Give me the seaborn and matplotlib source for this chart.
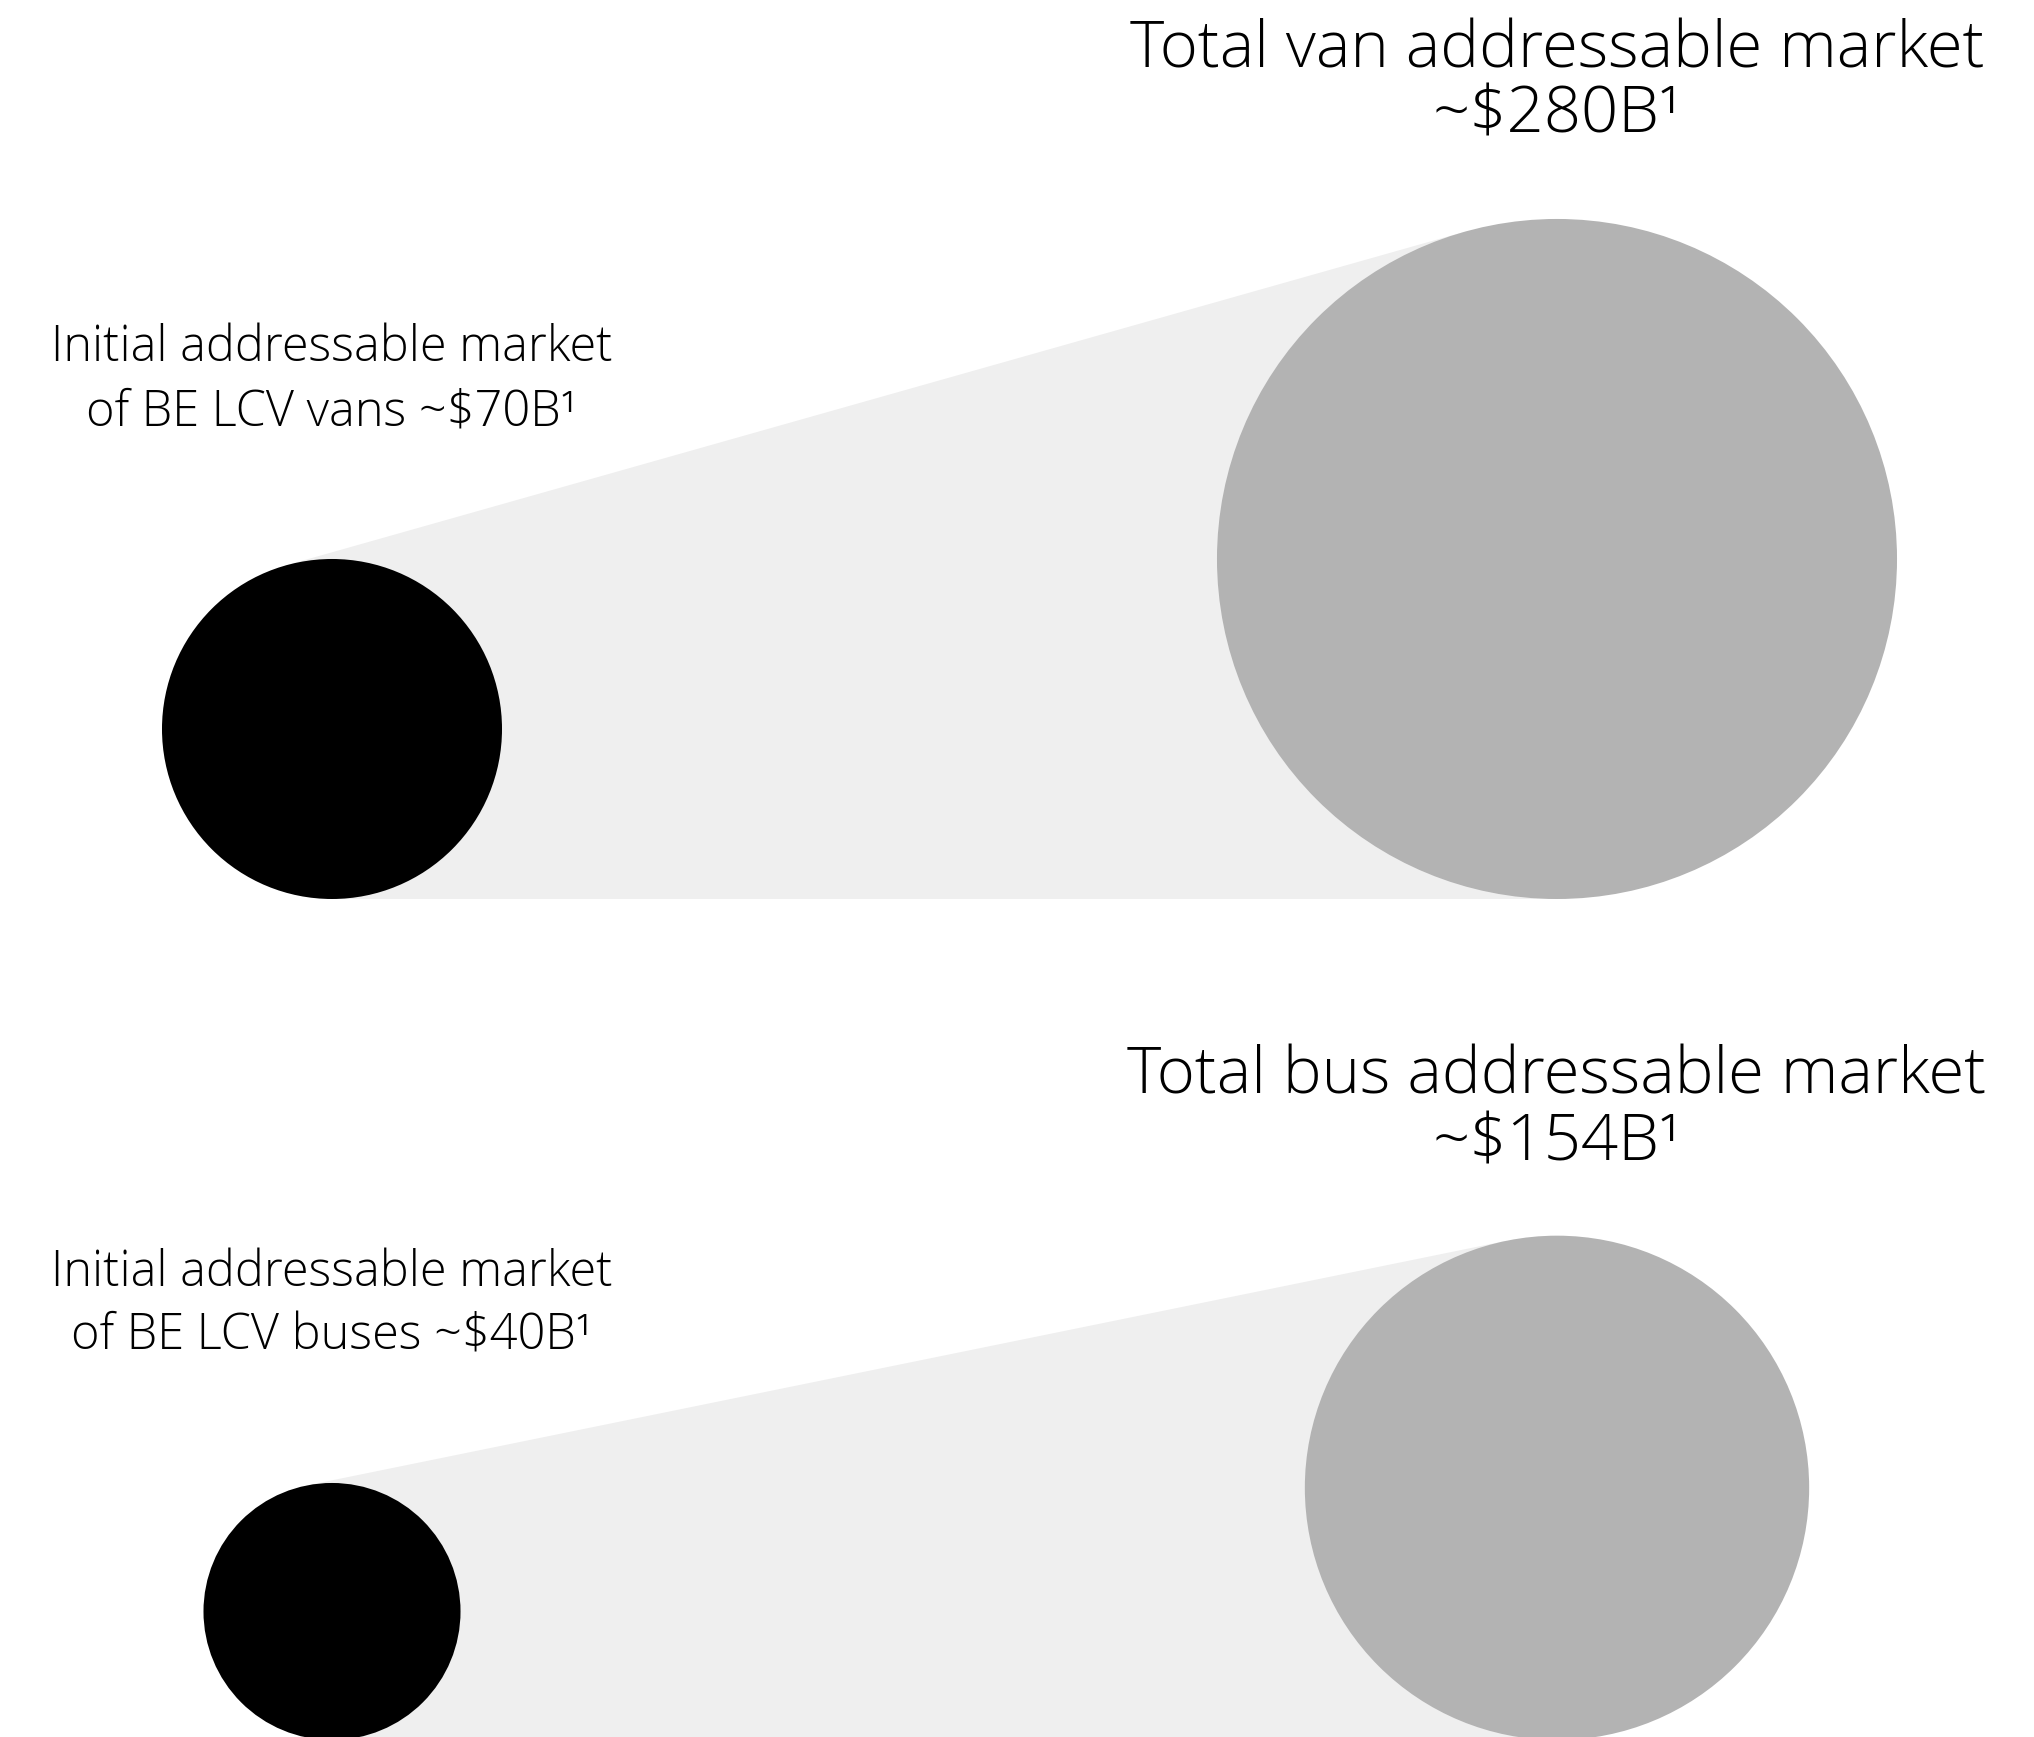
import numpy as np
import matplotlib.pyplot as plt
import seaborn as sns
from matplotlib.patches import Circle, Polygon

# 시장 규모 ($B) - 초기 시장 vs 전체 시장
segments = ["van", "bus"]
initial_values = [70, 40]
total_values = [280, 154]
initial_labels = [
    ["Initial addressable market", "of BE LCV vans ~$70B¹"],
    ["Initial addressable market", "of BE LCV buses ~$40B¹"],
]
total_labels = [
    ["Total van addressable market", "~$280B¹"],
    ["Total bus addressable market", "~$154B¹"],
]

# 레이아웃 (픽셀 좌표, y는 아래로 증가)
W, H = 2034, 1737
small_x, big_x = 332, 1557
row_base = [899, 1740]            # 두 원의 바닥선
title_base = [(67, 132), (1094, 1161)]
label_base = [(361, 425), (1286, 1350)]
px_per_sqrt = 20.32               # 반지름 = k * sqrt(값)

sns.set_theme(style="white")
plt.rcParams['font.family'] = ['Open Sans', 'DejaVu Sans']

fig = plt.figure(figsize=(W / 100, H / 100), dpi=100)
ax = fig.add_axes([0, 0, 1, 1])
ax.set_xlim(0, W)
ax.set_ylim(H, 0)
ax.axis('off')


def tangent_hull(c1, r1, c2, r2):
    """두 원의 외접선으로 만든 사다리꼴 꼭짓점"""
    dx, dy = c2[0] - c1[0], c2[1] - c1[1]
    dist = np.hypot(dx, dy)
    theta = np.arctan2(dy, dx)
    beta = np.arccos((r1 - r2) / dist)
    pts = []
    for sgn in (1, -1):
        a = theta + sgn * beta
        pts.append((c1[0] + r1 * np.cos(a), c1[1] + r1 * np.sin(a)))
        pts.append((c2[0] + r2 * np.cos(a), c2[1] + r2 * np.sin(a)))
    return [pts[0], pts[1], pts[3], pts[2]]


for i, seg in enumerate(segments):
    r1 = px_per_sqrt * np.sqrt(initial_values[i])
    r2 = px_per_sqrt * np.sqrt(total_values[i])
    c1 = (small_x, row_base[i] - r1)
    c2 = (big_x, row_base[i] - r2)

    ax.add_patch(Polygon(tangent_hull(c1, r1, c2, r2), closed=True,
                         facecolor='#efefef', edgecolor='none', zorder=1))
    ax.add_patch(Circle(c2, r2, facecolor='#b3b3b3', edgecolor='none', zorder=2))
    ax.add_patch(Circle(c1, r1, facecolor='black', edgecolor='none', zorder=3))

    for txt, yb in zip(total_labels[i], title_base[i]):
        ax.text(big_x, yb, txt, ha='center', va='baseline',
                fontsize=47, color='black', fontweight='light')
    for txt, yb in zip(initial_labels[i], label_base[i]):
        ax.text(small_x, yb, txt, ha='center', va='baseline',
                fontsize=35, color='black', fontweight='light')

fig.savefig('out.png', dpi=100, facecolor='white')
